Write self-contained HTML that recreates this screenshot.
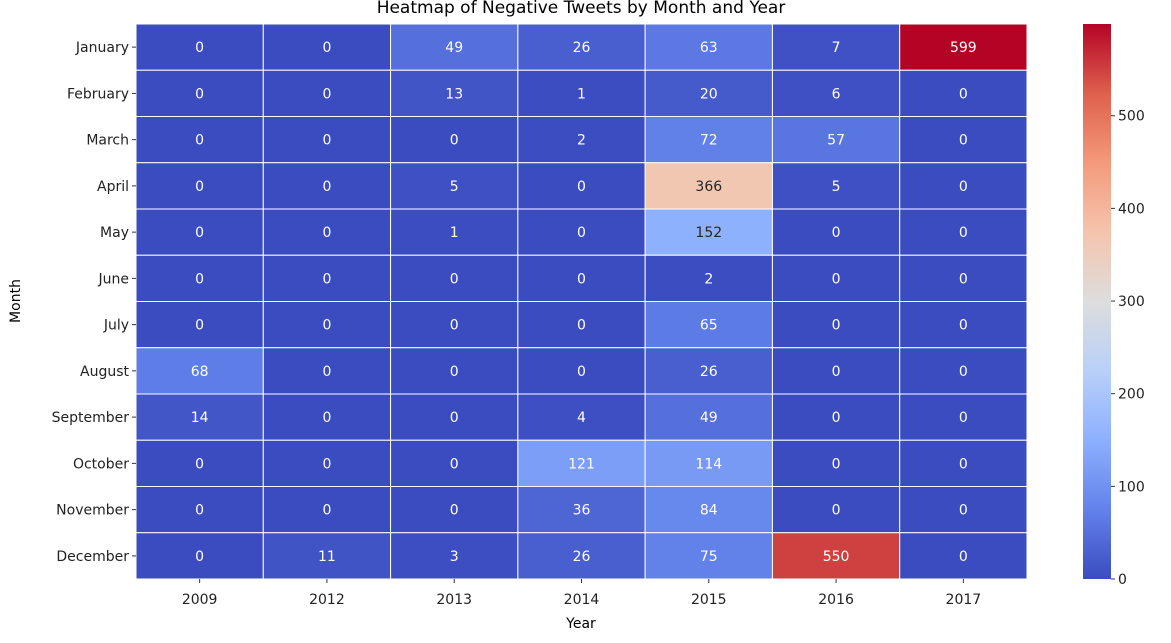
<!DOCTYPE html>
<html><head><meta charset="utf-8">
<style>
body{margin:0;background:#fff;}
svg{font-family:"DejaVu Sans","Liberation Sans",sans-serif;}
</style></head>
<body>
<svg id="chart" width="1171" height="638">
<defs>
<linearGradient id="cbg" x1="0" y1="1" x2="0" y2="0">
<stop offset="0" stop-color="rgb(59,76,192)"/>
<stop offset="0.125" stop-color="rgb(98,130,234)"/>
<stop offset="0.25" stop-color="rgb(141,176,254)"/>
<stop offset="0.375" stop-color="rgb(184,208,249)"/>
<stop offset="0.5" stop-color="rgb(221,221,221)"/>
<stop offset="0.625" stop-color="rgb(245,196,173)"/>
<stop offset="0.75" stop-color="rgb(244,154,123)"/>
<stop offset="0.875" stop-color="rgb(222,96,77)"/>
<stop offset="1" stop-color="rgb(180,4,38)"/>
</linearGradient>
</defs>
<text x="581" y="13" text-anchor="middle" font-size="17">Heatmap of Negative Tweets by Month and Year</text>
<text x="581" y="628" text-anchor="middle" font-size="14">Year</text>
<text x="20" y="301" text-anchor="middle" font-size="14" transform="rotate(-90 20 301)">Month</text>
<g id="cells"></g>
<rect x="1083" y="24" width="28" height="555" fill="url(#cbg)"/>
<g id="cbticks"></g>
</svg>
<script>
const years = ["2009","2012","2013","2014","2015","2016","2017"];
const months = ["January","February","March","April","May","June","July","August","September","October","November","December"];
const values = [
[0,0,49,26,63,7,599],
[0,0,13,1,20,6,0],
[0,0,0,2,72,57,0],
[0,0,5,0,366,5,0],
[0,0,1,0,152,0,0],
[0,0,0,0,2,0,0],
[0,0,0,0,65,0,0],
[68,0,0,0,26,0,0],
[14,0,0,4,49,0,0],
[0,0,0,121,114,0,0],
[0,0,0,36,84,0,0],
[0,11,3,26,75,550,0]
];
const cbTicks = [0,100,200,300,400,500];
const vmin = 0, vmax = 599;
const X0=136, X1=1027, Y0=24, Y1=579;
const cw=(X1-X0)/years.length, ch=(Y1-Y0)/months.length;
const cm=[[59,76,192],[98,130,234],[141,176,254],[184,208,249],[221,221,221],[245,196,173],[244,154,123],[222,96,77],[180,4,38]];
function color(v){
  let t=Math.max(0,Math.min(1,(v-vmin)/(vmax-vmin)))*(cm.length-1);
  let i=Math.min(Math.floor(t),cm.length-2), f=t-i;
  return cm[i].map((c,k)=>Math.round(c+(cm[i+1][k]-c)*f));
}
function lum(c){const l=c.map(x=>{x/=255;return x<=0.03928?x/12.92:Math.pow((x+0.055)/1.055,2.4)});return 0.2126*l[0]+0.7152*l[1]+0.0722*l[2];}
const NS="http://www.w3.org/2000/svg";
const g=document.getElementById("cells");
function mk(tag,attrs,parent){const e=document.createElementNS(NS,tag);for(const k in attrs)e.setAttribute(k,attrs[k]);parent.appendChild(e);return e;}
values.forEach((row,r)=>{
  row.forEach((v,c)=>{
    const col=color(v);
    const rect=mk("rect",{x:X0+c*cw,y:Y0+r*ch,width:cw,height:ch,fill:`rgb(${col})`,stroke:"#fff","stroke-width":1},g);
    
    
    const t=mk("text",{x:X0+(c+0.5)*cw,y:Y0+(r+0.5)*ch+5,"text-anchor":"middle","font-size":14,fill:lum(col)>0.408?"#262626":"#fff"},g);
    t.textContent=v;
    
    
  });
});
months.forEach((m,r)=>{
  const y=Y0+(r+0.5)*ch;
  mk("line",{x1:X0-4,x2:X0,y1:y,y2:y,stroke:"#333"},g);
  const t=mk("text",{x:X0-7,y:y+5,"text-anchor":"end","font-size":14,fill:"#222"},g);
  t.textContent=m;
  
  
});
years.forEach((yv,c)=>{
  const x=X0+(c+0.5)*cw;
  mk("line",{x1:x,x2:x,y1:Y1,y2:Y1+4,stroke:"#333"},g);
  const t=mk("text",{x:x,y:Y1+25,"text-anchor":"middle","font-size":14,fill:"#222"},g);
  t.textContent=yv;
  
  
});
const cb=document.getElementById("cbticks");
cbTicks.forEach(v=>{
  const y=Y1-(v-vmin)/(vmax-vmin)*(Y1-Y0);
  mk("line",{x1:1111,x2:1115,y1:y,y2:y,stroke:"#333"},cb);
  const t=mk("text",{x:1118,y:y+5,"font-size":14,fill:"#222"},cb);
  t.textContent=v;
  
  
});
</script>
</body></html>
